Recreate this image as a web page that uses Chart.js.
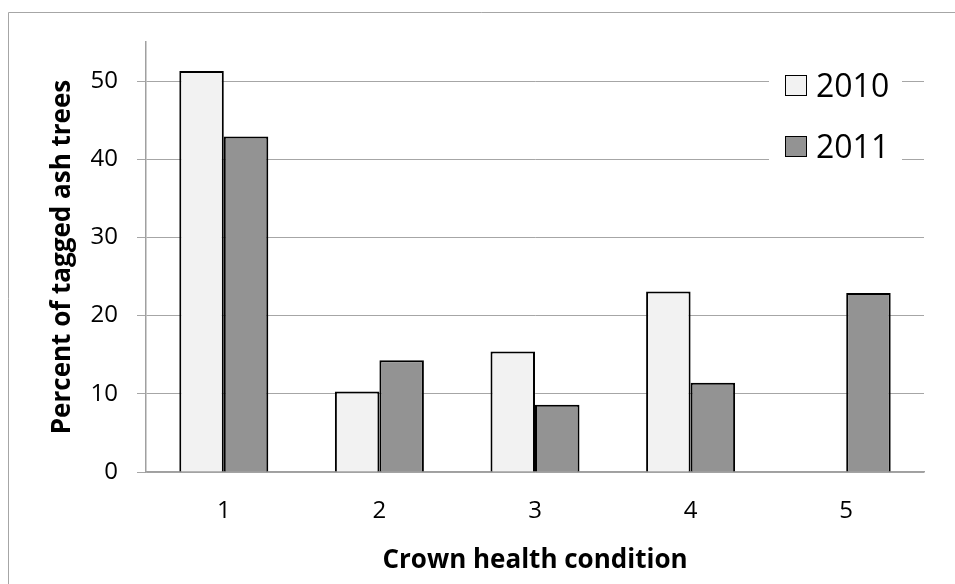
<!DOCTYPE html>
<html>
<head>
<meta charset="utf-8">
<title>Crown health condition</title>
<script src="https://cdn.jsdelivr.net/npm/chart.js@4.4.1/dist/chart.umd.min.js"></script>
<style>
	html, body { margin: 0; padding: 0; background: #fff; }
	canvas { display: block; }
</style>
</head>
<body>
<canvas id="crownChart" width="955" height="584"></canvas>
<script>
// crown health classes, 1 = healthy ... 5 = dead
const labels = ['1', '2', '3', '4', '5'];
const years = ['2010', '2011'];
const pct2010 = [51.3, 10.3, 15.4, 23.1, 0];
const pct2011 = [42.9, 14.3, 8.6, 11.4, 22.9];
const yTicks = [0, 10, 20, 30, 40, 50];

Chart.defaults.font.family = '"Open Sans", sans-serif';
Chart.defaults.color = '#000';

// white page + grey frame round the chart
const frame = {
	id: 'frame',
	beforeDraw(chart) {
		const c = chart.ctx;
		c.save();
		c.fillStyle = '#fff';
		c.fillRect(0, 0, chart.width, chart.height);
		c.strokeStyle = '#a6a6a6';
		c.lineWidth = 1;
		c.beginPath();
		c.moveTo(8.5, chart.height);
		c.lineTo(8.5, 12.5);
		c.lineTo(chart.width, 12.5);
		c.stroke();
		c.restore();
	}
};

// legend sits inside the plot, top right, on a white box
const boxLegend = {
	id: 'boxLegend',
	afterDraw(chart) {
		const c = chart.ctx;
		c.save();
		c.fillStyle = '#fff';
		c.fillRect(769, 56, 133, 116);
		c.font = '32px ' + Chart.defaults.font.family;
		c.textBaseline = 'alphabetic';
		c.lineWidth = 1;
		chart.data.datasets.forEach((ds, i) => {
			const y = 75 + i * 61;
			c.fillStyle = ds.backgroundColor;
			c.fillRect(785, y, 22, 21);
			c.strokeStyle = '#000';
			c.strokeRect(785.5, y + 0.5, 21, 20);
			c.fillStyle = '#000';
			c.fillText(ds.label, 816, y + 22);
		});
		c.restore();
	}
};

const ctx = document.getElementById('crownChart').getContext('2d');
new Chart(ctx, {
	type: 'bar',
	data: {
		labels: labels,
		datasets: [{
			label: years[0],
			data: pct2010,
			backgroundColor: '#f2f2f2',
			borderColor: '#000',
			borderWidth: 2
		}, {
			label: years[1],
			data: pct2011,
			backgroundColor: '#939393',
			borderColor: '#000',
			borderWidth: 2
		}]
	},
	options: {
		responsive: false,
		animation: false,
		datasets: {
			bar: { categoryPercentage: 0.572, barPercentage: 1 }
		},
		layout: { padding: { top: 42, right: 31, left: 0, bottom: 0 } },
		plugins: {
			legend: { display: false },
			tooltip: { enabled: false }
		},
		scales: {
			x: {
				grid: { display: false },
				border: { color: '#a0a0a0', width: 1.5 },
				ticks: { font: { size: 24 }, padding: 17 },
				title: {
					display: true,
					text: 'Crown health condition',
					font: { size: 26, weight: 'bold' },
					padding: { top: 0, bottom: 8 }
				},
				afterFit: s => { s.height = 112; }
			},
			y: {
				min: 0,
				max: 55,
				afterBuildTicks: s => { s.ticks = yTicks.map(v => ({ value: v })); },
				grid: { color: '#a6a6a6', tickLength: 9 },
				border: { color: '#a0a0a0', width: 1.5 },
				ticks: { font: { size: 24 }, padding: 19 },
				title: {
					display: true,
					text: 'Percent of tagged ash trees',
					font: { size: 26, weight: 'bold' },
					padding: { top: 47, bottom: 0 }
				},
				afterFit: s => { s.width = 146; }
			}
		}
	},
	plugins: [frame, boxLegend]
});
</script>
</body>
</html>
